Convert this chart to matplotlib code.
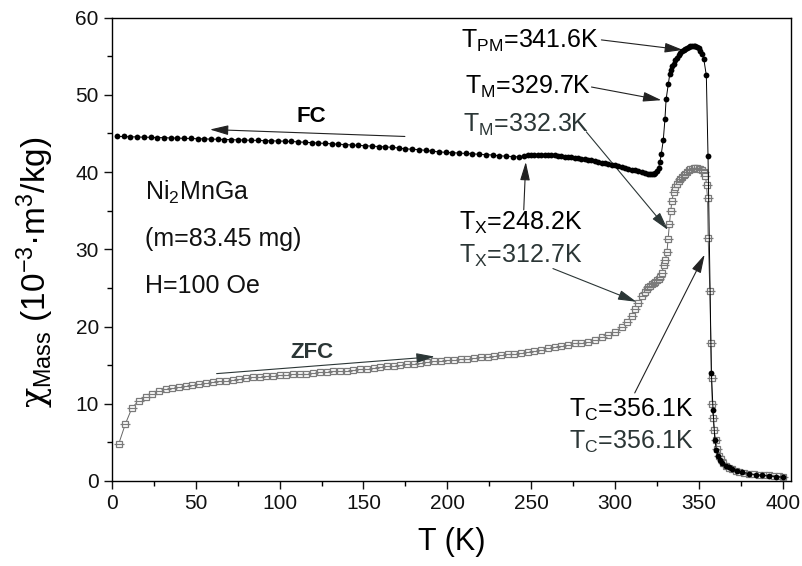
import matplotlib
matplotlib.use("Agg")
import matplotlib.pyplot as plt

plt.rcParams['font.family'] = ['Liberation Sans', 'DejaVu Sans']
plt.rcParams['mathtext.fontset'] = 'custom'
plt.rcParams['mathtext.rm'] = 'Liberation Sans'
plt.rcParams['mathtext.it'] = 'Liberation Sans'
plt.rcParams['mathtext.bf'] = 'Liberation Sans:bold'
plt.rcParams['mathtext.sf'] = 'DejaVu Serif'

# ---------------- data ----------------
fc_T = [3, 7, 11, 15, 19, 23, 27, 31, 35, 39, 43, 47, 51, 55, 59, 63, 67, 71, 75, 79,
        83, 87, 91, 95, 99, 103, 107, 111, 115, 119, 123, 127, 131, 135, 139, 143, 147,
        151, 155, 159, 163, 167, 171, 175, 179, 183, 187, 191, 195, 199, 203, 207, 211,
        215, 219, 223, 227, 231, 235, 239, 243,
        246, 248, 250, 252, 254, 256, 258, 260, 262, 264, 266, 268, 270, 272, 274, 276,
        278, 280, 282, 284, 286, 288, 290, 292, 294, 296, 298, 300, 302, 304, 306, 308,
        310, 312, 314, 316, 318, 320, 321, 322, 323, 324, 325, 326, 326.8, 327.6, 328.8,
        329.8, 330.5, 331.8, 332.7, 333.5, 334.2, 335, 336, 337, 338, 339, 340, 341, 342,
        343, 344, 345, 346, 347, 348, 349, 350, 351, 352, 353, 354.5, 355.5, 357.5, 358.5,
        359.6, 360.5, 361.5, 362.5, 364, 366, 368, 370, 373, 376, 380, 384, 388, 392, 396, 400]
fc_chi = [44.6, 44.6, 44.55, 44.55, 44.5, 44.5, 44.45, 44.45, 44.4, 44.4, 44.35, 44.35, 44.3,
          44.3, 44.25, 44.25, 44.2, 44.2, 44.15, 44.15, 44.1, 44.1, 44.05, 44.05, 44.0, 44.0,
          43.95, 43.9, 43.85, 43.8, 43.75, 43.7, 43.65, 43.6, 43.55, 43.5, 43.45, 43.4, 43.35,
          43.3, 43.25, 43.2, 43.1, 43.0, 42.95, 42.9, 42.8, 42.7, 42.6, 42.55, 42.5, 42.45,
          42.4, 42.35, 42.3, 42.25, 42.2, 42.1, 42.05, 42.0, 41.95,
          42.1, 42.2, 42.2, 42.2, 42.2, 42.2, 42.2, 42.2, 42.2, 42.15, 42.1, 42.05, 42.0, 41.95,
          41.9, 41.85, 41.8, 41.7, 41.65, 41.55, 41.5, 41.4, 41.3, 41.2, 41.15, 41.05, 40.95,
          40.9, 40.75, 40.65, 40.55, 40.4, 40.3, 40.2, 40.1, 40.0, 39.9, 39.8, 39.75, 39.75,
          39.8, 39.9, 40.1, 40.5, 41.3, 42.3, 44.1, 46.8, 49.4, 51.4, 52.7, 53.2, 53.7, 54.0,
          54.5, 54.8, 55.1, 55.35, 55.6, 55.8, 55.95, 56.1, 56.2, 56.3, 56.35, 56.35, 56.3,
          56.2, 56.0, 55.7, 55.3, 54.6, 52.5, 42.1, 14.0, 9.2, 5.3, 4.0, 3.2, 2.7, 2.3, 2.0,
          1.8, 1.6, 1.35, 1.15, 0.95, 0.82, 0.72, 0.65, 0.58, 0.5]

zfc_T = [4, 8, 12, 16, 20, 24, 28, 32, 36, 40, 44, 48, 52, 56, 60, 64, 68, 72, 76, 80, 84,
         88, 92, 96, 100, 104, 108, 112, 116, 120, 124, 128, 132, 136, 140, 144, 148, 152,
         156, 160, 164, 168, 172, 176, 180, 184, 188, 192, 196, 200, 204, 208, 212, 216, 220,
         224, 228, 232, 236, 240, 244, 248, 252, 256, 260, 264, 268, 272, 276, 280, 284, 288,
         292, 296, 300, 304, 307, 310, 312, 314, 316, 318, 319, 320, 321, 322, 323, 324, 325,
         326, 327, 328, 329, 330, 331, 331.7, 332.5, 333.3, 334, 335, 336, 337, 338, 339, 340,
         341, 342, 343, 344, 345, 346, 347, 348, 349, 350, 351, 352, 353, 354, 354.6, 355.2,
         355.6, 356.6, 357.2, 357.6, 358, 358.5, 359.2, 360, 361, 362, 363, 364.5, 366, 368,
         370, 372, 374, 377, 380, 383, 386, 389, 392, 395, 398, 400]
zfc_chi = [4.8, 7.4, 9.5, 10.4, 10.9, 11.3, 11.6, 11.9, 12.0, 12.15, 12.3, 12.45, 12.6, 12.75,
           12.8, 12.9, 13.0, 13.1, 13.2, 13.3, 13.4, 13.45, 13.55, 13.6, 13.7, 13.75, 13.8,
           13.85, 13.9, 14.0, 14.05, 14.1, 14.2, 14.25, 14.3, 14.4, 14.45, 14.55, 14.65, 14.75,
           14.85, 14.9, 15.0, 15.1, 15.2, 15.3, 15.4, 15.5, 15.55, 15.6, 15.7, 15.8, 15.85,
           15.9, 16.0, 16.1, 16.2, 16.3, 16.4, 16.5, 16.6, 16.7, 16.8, 17.0, 17.2, 17.35, 17.5,
           17.65, 17.8, 17.9, 18.05, 18.25, 18.6, 18.95, 19.35, 19.9, 20.6, 21.4, 22.3, 23.1,
           23.9, 24.5, 24.8, 25.1, 25.3, 25.5, 25.6, 25.8, 26.0, 26.2, 26.4, 26.9, 27.9, 28.6,
           29.6, 31.3, 33.3, 35.0, 36.3, 37.4, 38.0, 38.5, 38.8, 39.1, 39.4, 39.6, 39.8, 40.0,
           40.2, 40.35, 40.45, 40.5, 40.5, 40.5, 40.45, 40.35, 40.2, 40.0, 39.5, 38.3, 36.6,
           31.4, 24.6, 17.9, 13.3, 10.0, 8.1, 6.6, 5.3, 4.2, 3.3, 2.8, 2.3, 1.95, 1.7, 1.5,
           1.35, 1.2, 1.05, 0.95, 0.88, 0.82, 0.77, 0.72, 0.66, 0.6, 0.55]

x_ticks = [0, 50, 100, 150, 200, 250, 300, 350, 400]
y_ticks = [0, 10, 20, 30, 40, 50, 60]

# ---------------- figure ----------------
fig = plt.figure(figsize=(8.03, 5.66), dpi=100)
ax = fig.add_axes([112 / 803, 85 / 566, 679 / 803, 463.5 / 566])

gray = '#7a7a7a'
zcol = '#2b3636'

ax.plot(zfc_T, zfc_chi, '-', color='#666666', lw=0.7, zorder=2)
ax.plot(zfc_T, zfc_chi, 's', mfc='white', mec=gray, ms=5.0, mew=0.9, zorder=3)
ax.plot(zfc_T, zfc_chi, '_', color=gray, ms=6.5, mew=0.9, zorder=4)
ax.plot(fc_T, fc_chi, '-', color='black', lw=0.7, zorder=5)
ax.plot(fc_T, fc_chi, 'o', color='black', ms=4.2, mew=0, zorder=6)

ax.set_xlim(0, 405)
ax.set_ylim(0, 60)
ax.set_xticks(x_ticks)
ax.set_yticks(y_ticks)
ax.set_xticks([25, 75, 125, 175, 225, 275, 325, 375], minor=True)
ax.set_yticks([5, 15, 25, 35, 45, 55], minor=True)
ax.tick_params(which='major', direction='out', length=6, width=1.0, labelsize=15,
               colors='#111111', top=False, right=False)
ax.tick_params(which='minor', direction='out', length=3.5, width=1.0, top=False, right=False)
for s in ax.spines.values():
    s.set_linewidth(1.0)

ax.set_xlabel('T (K)', fontsize=22, labelpad=10)
ax.set_ylabel('$\\mathsf{\\chi}_{\\mathregular{Mass}}$ (10$^{\\mathregular{-3}}$·m$^{\\mathregular{3}}$/kg)',
              fontsize=24)
ax.yaxis.set_label_coords(-0.082, 0.45)

# ---------------- texts ----------------
fs = 18
ax.text(19.7, 36.4, 'Ni$_{\\mathregular{2}}$MnGa', fontsize=18, color='#111111')
ax.text(19.7, 30.4, '(m=83.45 mg)', fontsize=18, color='#111111')
ax.text(19.7, 24.3, 'H=100 Oe', fontsize=18, color='#111111')

ax.text(118.6, 46.5, 'FC', fontsize=16, fontweight='bold', ha='center', color='black')
ax.text(119, 15.9, 'ZFC', fontsize=16, fontweight='bold', ha='center', color=zcol)

ax.text(208.4, 56.05, 'T$_{\\mathregular{PM}}$=341.6K', fontsize=fs, color='black')
ax.text(210.4, 50.1, 'T$_{\\mathregular{M}}$=329.7K', fontsize=fs, color='black')
ax.text(209.2, 45.2, 'T$_{\\mathregular{M}}$=332.3K', fontsize=fs, color=zcol)
ax.text(206.9, 32.5, 'T$_{\\mathregular{X}}$=248.2K', fontsize=fs, color='black')
ax.text(206.9, 28.2, 'T$_{\\mathregular{X}}$=312.7K', fontsize=fs, color=zcol)
ax.text(272.4, 8.3, 'T$_{\\mathregular{C}}$=356.1K', fontsize=fs, color='black')
ax.text(272.4, 4.2, 'T$_{\\mathregular{C}}$=356.1K', fontsize=fs, color=zcol)

def arrow(tail, tip, color='#222222'):
    ax.annotate('', xy=tip, xytext=tail,
                arrowprops=dict(arrowstyle='-|>,head_length=0.75,head_width=0.2',
                                color=color, lw=0.8, mutation_scale=15,
                                shrinkA=0, shrinkB=0))

arrow((174.7, 44.6), (58.4, 45.5))
arrow((62.4, 13.9), (192.5, 16.1), zcol)
arrow((291.9, 57.1), (340.6, 55.8))
arrow((286.0, 51.0), (327.7, 49.3))
arrow((282.9, 45.2), (331.6, 32.5), zcol)
arrow((245.6, 35.1), (246.8, 41.3))
arrow((263.0, 27.5), (312.8, 23.2), zcol)
arrow((311.8, 11.4), (353.5, 29.3))

fig.savefig('out.png', dpi=100)
